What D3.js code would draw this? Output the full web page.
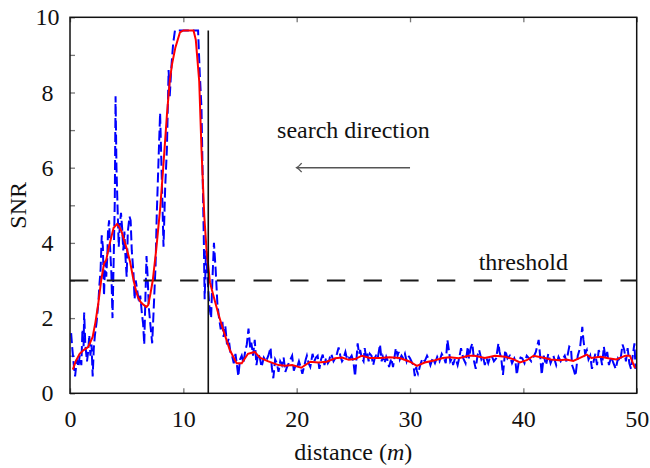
<!DOCTYPE html>
<html>
<head>
<meta charset="utf-8">
<script src="https://cdn.jsdelivr.net/npm/d3@7"></script>
<style>
  body { margin: 0; background: #fff; }
  text { font-family: "Liberation Serif", "Times New Roman", serif; font-size: 24px; fill: #111; }
</style>
</head>
<body>
<svg id="chart" width="650" height="468"></svg>
<script>
// axis ticks
const xTicks = [0, 10, 20, 30, 40, 50];
const yTicks = [0, 2, 4, 6, 8, 10];
const yMinor = [1, 3, 5, 7, 9];
const threshold = 3;
const stopDist = 12.2, stopSNR = 9.65;

// measured SNR, [distance, snr]
const blueNear = [
  [0.1,1.6],[0.2,1.2],[0.35,0.7],[0.45,0.45],[0.6,0.9],[0.75,0.7],[0.85,1.0],[1.0,0.75],
  [1.1,1.7],[1.2,1.25],[1.25,2.15],[1.35,1.3],[1.5,0.85],[1.6,1.1],[1.7,1.55],[1.8,1.0],
  [1.9,1.3],[2.0,0.45],[2.1,1.2],[2.2,1.55],[2.35,1.9],[2.5,2.4],[2.6,2.9],[2.7,3.3],
  [2.8,4.2],[2.9,3.9],[3.0,2.6],[3.1,3.5],[3.2,3.1],[3.3,3.7],[3.35,4.3],[3.45,4.6],
  [3.55,3.8],[3.65,3.2],[3.75,2.0],[3.85,3.5],[3.95,5.1],[4.02,7.9],[4.1,6.0],[4.2,4.9],
  [4.3,3.9],[4.4,4.5],[4.5,4.8],[4.6,4.4],[4.7,3.8],[4.8,4.3],[4.9,3.6],[5.0,3.1],
  [5.1,4.3],[5.25,4.7],[5.35,4.6],[5.45,3.8],[5.6,3.2],[5.7,2.5],[5.8,3.0],[5.95,2.7],
  [6.1,2.4],[6.2,2.6],[6.35,2.1],[6.45,1.85],[6.55,1.3],[6.65,2.5],[6.75,3.65],[6.85,3.1],
  [6.95,2.3],[7.1,1.8],[7.25,1.33],[7.35,2.0],[7.45,2.7],[7.55,3.4],[7.65,4.7],[7.8,6.1],
  [7.95,7.45],[8.1,5.7],[8.25,3.9],[8.4,5.5],[8.55,6.5],[8.7,8.6],[8.8,7.9],[8.95,8.7],
  [9.1,9.3],[9.26,9.65],[11.3,9.65],[11.45,8.5],[11.6,7.6],[11.75,5.0],[11.8,4.2],[11.88,2.5],
  [12.0,3.8],[12.15,3.0],[12.3,2.3],[12.45,2.0],[12.55,2.9],[12.7,4.0],[12.85,3.3],[13.0,2.4],
  [13.15,2.0],[13.3,1.7],[13.45,1.9],[13.55,1.5],[13.7,1.8],[13.85,1.3],[14.0,1.45],[14.15,1.1],
  [14.3,1.0],[14.45,0.8],[14.6,1.05],[14.75,0.7],[14.85,0.45],[15.0,0.9],[15.15,1.0],[15.3,0.8],
  [15.45,1.1],[15.6,1.3],[15.75,1.72],[15.9,1.2],[16.0,1.35],[16.15,1.0]
];
const blueMid = [
  [16.3,1.42],[16.45,0.75],[16.6,1.05],[16.75,0.95],[16.9,0.7],[17.1,0.95],[17.3,0.85],[17.5,1.0],
  [17.7,1.22],[17.8,0.7],[17.94,0.4],[18.1,0.9],[18.25,0.8],[18.4,0.57],[18.55,0.85],[18.7,0.75],
  [18.85,0.95],[19.0,0.57],[19.15,0.7],[19.3,0.8],[19.45,0.9],[19.6,1.0],[19.75,0.6],[19.9,0.75],
  [20.05,0.7],[20.2,0.85],[20.35,0.7],[20.5,0.52],[20.65,0.7],[20.8,0.9],[20.9,1.0],[21.05,0.8],
  [21.2,0.7],[21.4,1.05],[21.55,0.85],[21.7,0.95],[21.85,1.0],[22.0,0.65],[22.15,0.9],[22.3,1.03],
  [22.45,0.75],[22.6,0.95],[22.75,0.8],[22.85,0.85],[23.0,1.05],[23.1,1.0],[23.25,0.85],[23.4,0.93],
  [23.55,1.05],[23.7,1.22],[23.85,1.0],[24.0,0.85],[24.1,0.9],[24.3,1.1],[24.45,0.9],[24.55,0.95],
  [24.7,0.93],[24.85,1.0],[25.0,0.85],[25.15,0.45],[25.3,1.0],[25.38,1.33],[25.5,1.05],[25.6,1.15],
  [25.75,0.93],[25.9,0.85],[26.0,1.2],[26.1,1.0],[26.2,1.1],[26.35,0.85],[26.45,1.05],[26.6,1.0],
  [26.75,0.75],[26.9,0.95],[27.0,1.0],[27.15,0.93],[27.35,1.3],[27.5,0.85],[27.6,0.97],[27.75,0.8],
  [27.9,0.97],[28.05,0.85],[28.15,0.7],[28.35,0.93],[28.5,0.7],[28.75,1.2],[28.9,1.0],[29.0,1.1],
  [29.1,0.9],[29.25,1.0],[29.4,0.93],[29.55,1.05],[29.7,0.85],[29.85,1.0],[30.0,0.93],[30.2,0.8],
  [30.3,0.75],[30.42,0.46],[30.55,0.7],[30.6,0.6],[30.7,0.52],[30.9,0.75],[31.1,0.93],[31.3,0.85],
  [31.5,1.0],[31.65,0.9],[31.8,0.75],[32.0,0.93],[32.2,0.8],[32.4,0.97],[32.6,0.85],[32.8,1.05],
  [33.0,0.93]
];
const blueFar = [
  [33.15,0.8],[33.3,1.42],[33.45,1.1],[33.55,0.85],[33.7,0.93],[33.8,0.75],[33.97,0.93],[34.1,0.85],
  [34.2,0.75],[34.35,0.95],[34.5,1.2],[34.7,0.93],[34.9,0.8],[35.1,1.24],[35.2,0.93],[35.35,1.2],
  [35.5,1.33],[35.65,0.85],[35.8,0.65],[35.95,1.0],[36.1,1.15],[36.3,0.9],[36.45,0.97],[36.6,0.75],
  [36.75,0.93],[36.9,0.8],[37.05,0.95],[37.2,1.0],[37.4,0.85],[37.6,0.93],[37.8,1.33],[37.9,1.1],
  [38.05,0.93],[38.2,0.49],[38.4,1.15],[38.6,0.93],[38.8,1.0],[39.0,0.8],[39.2,0.93],[39.3,0.85],
  [39.42,0.49],[39.6,0.85],[39.75,0.95],[39.9,0.93],[40.1,0.8],[40.3,1.0],[40.5,0.93],[40.7,0.85],
  [40.9,0.97],[41.1,1.1],[41.35,1.42],[41.5,0.93],[41.62,0.49],[41.8,1.0],[42.0,0.75],[42.2,1.05],
  [42.4,0.8],[42.65,1.0],[42.9,0.75],[43.1,0.97],[43.3,0.85],[43.5,0.93],[43.65,1.0],[43.8,0.85],
  [44.05,1.24],[44.2,1.2],[44.3,0.75],[44.45,0.62],[44.6,0.46],[44.8,1.0],[45.0,1.2],[45.2,1.77],
  [45.3,1.42],[45.45,1.05],[45.6,1.15],[45.75,0.9],[45.9,1.0],[46.05,0.65],[46.2,0.85],[46.35,1.05],
  [46.5,0.75],[46.65,1.15],[46.8,1.0],[46.95,0.75],[47.1,1.24],[47.25,0.93],[47.4,1.1],[47.55,0.75],
  [47.75,0.97],[47.95,0.8],[48.15,0.65],[48.35,0.93],[48.55,0.85],[48.75,1.3],[48.9,1.15],[49.05,0.85],
  [49.2,1.2],[49.35,0.8],[49.5,0.65],[49.65,1.0],[49.8,1.33],[49.9,0.65]
];

// smoothed SNR
const redSmooth = [
  [0.25,0.63],[0.5,0.85],[0.85,1.05],[1.2,1.15],[1.6,1.23],[2.0,1.5],[2.25,1.9],[2.5,2.4],
  [2.75,3.0],[3.0,3.45],[3.2,3.55],[3.4,3.85],[3.65,4.16],[3.85,4.4],[4.15,4.5],[4.35,4.43],
  [4.55,4.3],[4.8,4.05],[5.0,3.85],[5.3,3.5],[5.55,3.1],[5.8,2.75],[6.0,2.55],[6.25,2.42],
  [6.5,2.35],[6.75,2.3],[6.9,2.35],[7.1,2.65],[7.3,3.0],[7.6,3.8],[7.95,4.9],[8.2,5.9],
  [8.55,7.4],[8.8,8.3],[9.0,8.75],[9.3,9.2],[9.7,9.6],[10.0,9.65],[10.9,9.65],[11.1,9.4],
  [11.4,8.3],[11.6,6.5],[11.85,4.7],[12.05,3.8],[12.35,2.95],[12.65,2.6],[13.1,2.1],[13.5,1.7],
  [14.1,1.15],[14.7,0.8],[15.15,0.8],[15.7,1.05],[16.3,1.1],[16.75,0.95],[17.5,0.85],[18.4,0.75],
  [19.0,0.73],[19.6,0.75],[20.4,0.68],[21.2,0.84],[21.9,0.82],[22.65,0.84],[23.4,0.93],[24.0,0.95],
  [24.6,0.89],[25.15,0.91],[25.75,1.0],[26.45,0.94],[27.35,0.94],[28.2,0.96],[29.1,0.94],[30.0,0.84],
  [30.6,0.73],[31.3,0.82],[32.2,0.88],[32.9,0.94],[33.5,0.96],[34.3,0.93],[35.15,1.0],[35.7,1.0],
  [36.6,0.94],[37.5,1.0],[38.4,0.97],[39.1,0.91],[39.7,0.82],[40.3,0.88],[40.9,1.0],[41.9,0.94],
  [42.4,0.9],[43.2,0.88],[43.8,0.9],[44.4,0.86],[45.0,0.94],[45.6,1.03],[46.0,0.94],[46.8,0.97],
  [47.5,0.93],[48.2,0.9],[49.0,1.0],[49.4,1.0],[49.85,0.67]
];

const svg = d3.select("#chart");
const x = d3.scaleLinear().domain([0, 50]).range([70, 636.7]);
const y = d3.scaleLinear().domain([0, 10]).range([393.3, 17.3]);

svg.append("defs").append("clipPath").attr("id", "plot")
  .append("rect").attr("x", 70).attr("y", 17.3).attr("width", 566.7).attr("height", 376);

// ticks (inward)
const xb = svg.append("g").attr("transform", "translate(0,393.3)")
  .call(d3.axisBottom(x).tickValues(xTicks).tickSize(-5).tickPadding(16.5));
const xt = svg.append("g").attr("transform", "translate(0,17.3)")
  .call(d3.axisTop(x).tickValues(xTicks).tickSize(-5).tickFormat(""));
const yl = svg.append("g").attr("transform", "translate(70,0)")
  .call(d3.axisLeft(y).tickValues(yTicks.concat(yMinor)).tickSize(-5)
    .tickFormat(d => yTicks.includes(d) ? d : ""));
yl.selectAll("text").attr("text-anchor", "middle").attr("x", -22.5);
[xb, xt, yl].forEach(g => {
  g.select(".domain").remove();
  g.selectAll(".tick line").attr("stroke", "#777").attr("stroke-width", 1.3);
  g.selectAll("text").style("font-size", "24px").attr("fill", "#111")
    .attr("font-family", "Liberation Serif, serif");
});

const line = d3.line().x(d => x(d[0])).y(d => y(d[1]));
const plot = svg.append("g").attr("clip-path", "url(#plot)");

plot.append("path").datum(blueNear.concat(blueMid, blueFar))
  .attr("d", line).attr("fill", "none").attr("stroke", "#0000ff")
  .attr("stroke-width", 2).attr("stroke-dasharray", "10,4");

plot.append("line")
  .attr("x1", x(0)).attr("x2", x(50)).attr("y1", y(threshold)).attr("y2", y(threshold))
  .attr("stroke", "#1a1a1a").attr("stroke-width", 2.2).attr("stroke-dasharray", "18.3,18.4");

plot.append("path").datum(redSmooth)
  .attr("d", line).attr("fill", "none").attr("stroke", "#ff0000").attr("stroke-width", 2);

plot.append("line")
  .attr("x1", x(stopDist)).attr("x2", x(stopDist)).attr("y1", y(0)).attr("y2", y(stopSNR))
  .attr("stroke", "#111").attr("stroke-width", 1.6);

// frame
svg.append("rect").attr("x", 70).attr("y", 17.3).attr("width", 566.7).attr("height", 376)
  .attr("fill", "none").attr("stroke", "#111").attr("stroke-width", 1.5);

// annotations
svg.append("text").attr("x", x(25)).attr("y", 137.7).attr("text-anchor", "middle").text("search direction");
svg.append("line").attr("x1", x(30)).attr("x2", x(20)).attr("y1", y(6)).attr("y2", y(6))
  .attr("stroke", "#555").attr("stroke-width", 1.5);
svg.append("path")
  .attr("d", `M${x(20) + 5},${y(6) - 4.5} Q${x(20) + 2},${y(6) - 1} ${x(20)},${y(6)} Q${x(20) + 2},${y(6) + 1} ${x(20) + 5},${y(6) + 4.5}`)
  .attr("fill", "none").attr("stroke", "#555").attr("stroke-width", 1.3);
svg.append("text").attr("x", x(40)).attr("y", 270).attr("text-anchor", "middle").text("threshold");

// axis labels
const xl = svg.append("text").attr("x", 353.3).attr("y", 459.5).attr("text-anchor", "middle");
xl.append("tspan").text("distance (");
xl.append("tspan").attr("font-style", "italic").text("m");
xl.append("tspan").text(")");
svg.append("text").attr("transform", "translate(25.5,205.3) rotate(-90)")
  .attr("text-anchor", "middle").text("SNR");
</script>
</body>
</html>
